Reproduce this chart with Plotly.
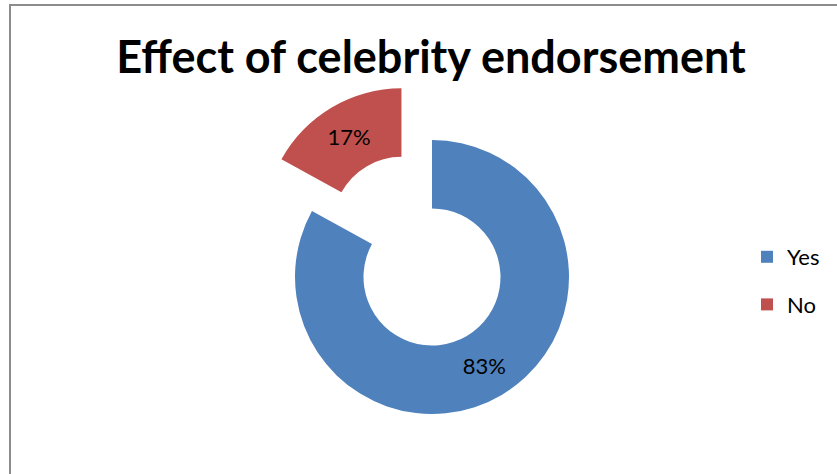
import plotly.graph_objects as go

# Data
labels = ["Yes", "No"]
values = [83, 17]
colors = ["#4F81BD", "#C0504D"]
pulls = [0, 0.438]
title_text = "Effect of celebrity endorsement"

W, H = 837, 474
cx, cy = 432, 277
half = 197

fig = go.Figure()
fig.add_trace(
    go.Pie(
        labels=labels,
        values=values,
        marker=dict(colors=colors, line=dict(width=0)),
        hole=0.5,
        pull=pulls,
        sort=False,
        direction="clockwise",
        rotation=0,
        texttemplate="%{percent:.0%}",
        textposition="inside",
        insidetextorientation="horizontal",
        textfont=dict(family="Lato", size=22, color="#000000"),
        domain=dict(
            x=[(cx - 300) / W, (cx + 300) / W],
            y=[1 - (cy + half) / H, 1 - (cy - half) / H],
        ),
        hoverinfo="label+percent",
    )
)
# invisible legend spacer (only used so legend items are spaced like the original)
fig.add_trace(
    go.Scatter(
        x=[None], y=[None], name=" ", legendgroup="spacer", mode="markers",
        marker=dict(opacity=0, color="rgba(0,0,0,0)"), hoverinfo="skip",
    )
)

border = dict(color="#8C8C8C", width=2)
fig.update_layout(
    width=W,
    height=H,
    margin=dict(l=0, r=0, t=0, b=0, autoexpand=False),
    paper_bgcolor="white",
    plot_bgcolor="white",
    xaxis=dict(visible=False),
    yaxis=dict(visible=False),
    title=dict(
        text="<b>" + title_text + "</b>",
        font=dict(family="Lato", size=45, color="#000000"),
        x=431 / W,
        xanchor="center",
        xref="paper",
        y=1 - 57 / H,
        yanchor="middle",
        yref="container",
    ),
    showlegend=True,
    legend=dict(
        x=747 / W,
        xanchor="left",
        y=1 - 236 / H,
        yanchor="top",
        font=dict(family="Lato", size=22, color="#000000"),
        traceorder="grouped",
        tracegroupgap=16,
        bgcolor="rgba(0,0,0,0)",
    ),
    shapes=[
        dict(type="line", xref="paper", yref="paper",
             x0=10 / W, x1=1, y0=1 - 5 / H, y1=1 - 5 / H, line=border, layer="above"),
        dict(type="line", xref="paper", yref="paper",
             x0=10 / W, x1=10 / W, y0=0, y1=1 - 4 / H, line=border, layer="above"),
    ],
)

fig.write_html(
    "out.html",
    config={"displayModeBar": False},
    post_script="document.body.style.margin='0';document.body.style.overflow='hidden';",
)
